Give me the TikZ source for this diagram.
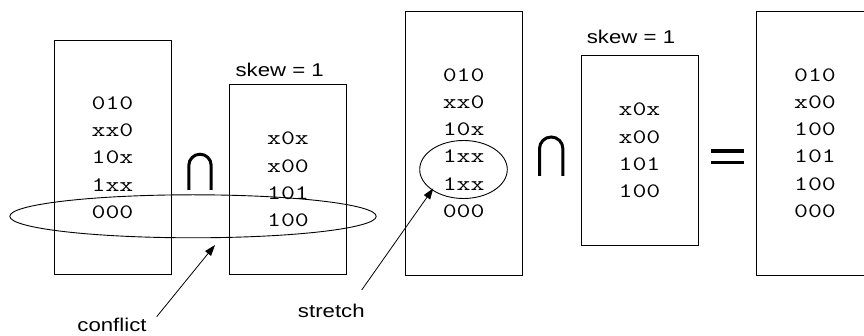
\documentclass[tikz,border=0pt]{standalone}
\usepackage{fontspec}
\newfontfamily\codefont[FakeStretch=1.32]{Latin Modern Mono}
\newfontfamily\labelfont[FakeStretch=1.2]{Liberation Sans}
\usetikzlibrary{arrows.meta,shapes.geometric}

\begin{document}
\begin{tikzpicture}[x=1pt,y=-1pt,
  box/.style={draw, line width=0.9pt, minimum width=117pt, inner sep=0pt,
    align=center, font=\codefont\fontsize{20.5}{27.3}\selectfont},
  lbl/.style={font=\labelfont\fontsize{18.5}{22}\selectfont, inner sep=0pt, anchor=base},
  ring/.style={draw, ellipse, line width=0.9pt, inner sep=0pt},
  pointer/.style={line width=0.8pt, -{Triangle[length=11pt,width=7.5pt]}},
  opsym/.style={line width=3pt},
  eqbar/.style={line width=3.6pt}]
\useasboundingbox (0,0) rectangle (864,336);

% cube sets
\node[box, minimum height=233.5pt] (s1) at (112.5,157.7) {010\\xx0\\10x\\1xx\\000};
\node[box, minimum height=190pt]   (s2) at (288,179.5)   {x0x\\x00\\101\\100};
\node[box, minimum height=264pt]   (s3) at (463.7,143)   {010\\xx0\\10x\\1xx\\1xx\\000};
\node[box, minimum height=190.7pt] (s4) at (639.5,150.4) {x0x\\x00\\101\\100};
\node[box, minimum height=264pt]   (s5) at (815,143)     {010\\x00\\100\\101\\100\\000};

% skew labels
\node[lbl] (k2) at (279.7,76.7) {skew = 1};
\node[lbl] (k4) at (631,43.3)   {skew = 1};

% intersection signs
\draw[opsym] (188.8,190) -- (188.8,165.4) arc[start angle=180, end angle=0, radius=11.2pt] -- (211.2,190);
\draw[opsym] (539.5,176) -- (539.5,148.7) arc[start angle=180, end angle=0, radius=11.7pt] -- (562.9,176);

% equals sign
\draw[eqbar] (711,150.9) -- (744,150.9);
\draw[eqbar] (711,162.7) -- (744,162.7);

% highlighted rows
\node[ring, minimum width=366.4pt, minimum height=43pt] (conflictring) at (193,216.3) {};
\node[ring, minimum width=87.6pt, minimum height=58pt] (stretchring) at (463.5,169.5) {};

% annotations
\node[lbl] (conflict) at (112,331.5) {conflict};
\node[lbl] (stretch)  at (331.3,317) {stretch};
\coordinate (conflicttail) at (156.7,316.7);
\coordinate (conflicttip)  at (215,245);
\coordinate (stretchtail)  at (361.7,290);
\coordinate (stretchtip)   at (433.3,188.3);
\draw[pointer] (conflicttail) -- (conflicttip);
\draw[pointer] (stretchtail) -- (stretchtip);
\end{tikzpicture}
\end{document}
